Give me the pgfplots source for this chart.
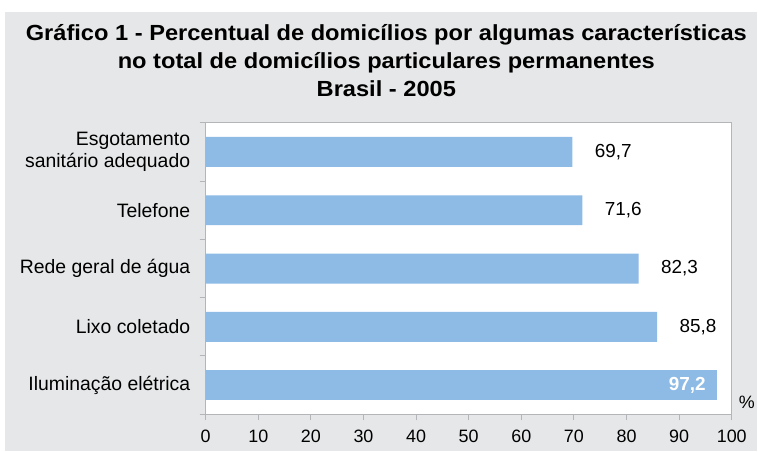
\documentclass[border=0pt]{standalone}
\usepackage{fontspec}
\setmainfont{Liberation Sans}
\newfontfamily\titlefont[FakeStretch=1.08]{Liberation Sans}
\usepackage{pgfplots}
\pgfplotsset{compat=1.18}
\definecolor{bg}{HTML}{E6E7E8}
\definecolor{barblue}{HTML}{8DBBE5}
\definecolor{axgray}{HTML}{B4B5B8}
\begin{document}
\begin{tikzpicture}[x=1bp,y=1bp]
\fill[white] (-206,-37) rectangle (552,415);
\fill[bg] (-201,-37) rectangle (552,403);
\begin{axis}[
  at={(0,0)}, anchor=south west,
  scale only axis, width=527bp, height=292bp,
  xbar, bar width=30bp, bar shift=0pt,
  xmin=0, xmax=100, ymin=-0.5, ymax=4.5,
  xtick={0,10,...,100},
  ytick={0,...,4},
  minor ytick={-0.5,0.5,...,4.5},
  yticklabels={Iluminação elétrica, Lixo coletado, Rede geral de água, Telefone, {Esgotamento\\sanitário adequado}},
  yticklabel style={align=right, xshift=-6bp, font=\fontsize{19.5}{22}\selectfont},
  xticklabel style={yshift=-6bp, font=\fontsize{18}{20}\selectfont},
  /pgf/number format/assume math mode=true,
  tick align=outside, tick pos=left,
  major tick length=6bp, minor tick length=6bp,
  major y tick style={draw=none},
  tick style={axgray, line width=1bp},
  axis line style={axgray, line width=1bp},
  axis background/.style={fill=white},
  point meta=x,
]
\addplot[fill=barblue, draw=none,
  nodes near coords={\pgfmathprintnumber[fixed, precision=1, fixed zerofill, use comma]{\pgfplotspointmeta}},
  every node near coord/.append style={anchor=west, xshift=19bp, text=black, font=\fontsize{19}{22}\selectfont}]
  coordinates {(85.8,1) (82.3,2) (71.6,3) (69.7,4)};
\addplot[fill=barblue, draw=none,
  nodes near coords={\pgfmathprintnumber[fixed, precision=1, fixed zerofill, use comma]{\pgfplotspointmeta}},
  every node near coord/.append style={anchor=east, xshift=-8bp, text=white, font=\bfseries\fontsize{19}{22}\selectfont}]
  coordinates {(97.2,0)};
\end{axis}
\node[font=\fontsize{18}{20}\selectfont] at (542,12) {\%};
\node[font=\titlefont\bfseries\fontsize{22}{28}\selectfont, align=center] at (181,354)
  {Gráfico 1 - Percentual de domicílios por algumas características\\
   no total de domicílios particulares permanentes\\
   Brasil - 2005};
\end{tikzpicture}
\end{document}
